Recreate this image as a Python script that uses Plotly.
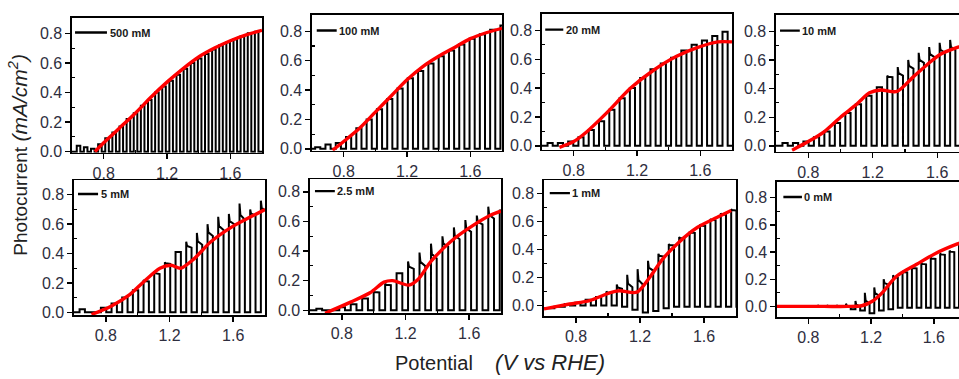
import plotly.graph_objects as go

W, H = 959, 379

# ---------------- data ----------------
labels = ["500 mM", "100 mM", "20 mM", "10 mM", "5 mM", "2.5 mM", "1 mM", "0 mM"]

# red LSV-type envelope curves (V vs RHE, mA/cm2)
red500_v = [0.745, 0.8, 0.85, 0.9, 1.0, 1.1, 1.2, 1.3, 1.4, 1.5, 1.6, 1.7, 1.8]
red500_i = [0.0, 0.06, 0.11, 0.16, 0.26, 0.37, 0.47, 0.56, 0.64, 0.70, 0.75, 0.79, 0.82]
red100_v = [0.73, 0.8, 0.9, 1.0, 1.1, 1.2, 1.3, 1.4, 1.5, 1.6, 1.7, 1.8]
red100_i = [-0.01, 0.05, 0.14, 0.25, 0.36, 0.47, 0.56, 0.63, 0.69, 0.75, 0.79, 0.82]
red20_v = [0.71, 0.8, 0.885, 1.01, 1.16, 1.30, 1.45, 1.58, 1.71, 1.8]
red20_i = [-0.01, 0.03, 0.10, 0.23, 0.40, 0.52, 0.62, 0.68, 0.72, 0.72]
red10_v = [0.70, 0.8, 0.9, 1.0, 1.1, 1.18, 1.25, 1.35, 1.45, 1.54, 1.62, 1.73, 1.8]
red10_i = [-0.03, 0.03, 0.10, 0.20, 0.29, 0.37, 0.39, 0.38, 0.48, 0.57, 0.64, 0.69, 0.72]
red5_v = [0.71, 0.83, 0.95, 1.04, 1.14, 1.21, 1.27, 1.35, 1.46, 1.59, 1.71, 1.8]
red5_i = [-0.015, 0.04, 0.12, 0.21, 0.30, 0.32, 0.30, 0.36, 0.48, 0.58, 0.65, 0.70]
red25_v = [0.695, 0.855, 0.98, 1.065, 1.12, 1.22, 1.28, 1.36, 1.49, 1.62, 1.73, 1.8]
red25_i = [-0.02, 0.055, 0.12, 0.19, 0.20, 0.17, 0.21, 0.33, 0.47, 0.57, 0.64, 0.67]
red1_v = [0.6, 0.76, 0.885, 1.01, 1.07, 1.18, 1.26, 1.34, 1.44, 1.56, 1.68, 1.77]
red1_i = [-0.025, 0.01, 0.035, 0.09, 0.105, 0.095, 0.20, 0.33, 0.45, 0.56, 0.63, 0.68]
red0_v = [0.6, 0.9, 1.05, 1.14, 1.21, 1.27, 1.36, 1.49, 1.61, 1.75, 1.8]
red0_i = [0.0, 0.0, 0.0, 0.005, 0.04, 0.10, 0.22, 0.31, 0.39, 0.46, 0.48]

# chopped-light (black) curves: first light-on potential, chop period,
# current at light-on, current at light-off, dark current after each pulse
chop500_start, chop500_period = 0.63, 0.045
chop500_on = [0.04, 0.03, 0.02, 0.05, 0.09, 0.13, 0.17, 0.22, 0.26, 0.31, 0.35, 0.40, 0.44,
              0.48, 0.52, 0.56, 0.60, 0.63, 0.66, 0.69, 0.72, 0.74, 0.76, 0.78, 0.80, 0.81]
chop500_off = chop500_on
chop500_dark = [0.0] * len(chop500_on)

chop100_start, chop100_period = 0.62, 0.065
chop100_on = [0.01, 0.03, 0.04, 0.08, 0.14, 0.20, 0.27, 0.34, 0.41, 0.48, 0.53, 0.58, 0.63,
              0.67, 0.71, 0.75, 0.78, 0.81, 0.84]
chop100_off = chop100_on
chop100_dark = [0.0] * len(chop100_on)

chop20_start, chop20_period = 0.635, 0.065
chop20_on = [0.02, 0.02, 0.03, 0.06, 0.11, 0.17, 0.25, 0.33, 0.40, 0.47, 0.53, 0.57, 0.61,
             0.66, 0.70, 0.73, 0.76, 0.79]
chop20_off = chop20_on
chop20_dark = [0.0] * len(chop20_on)

chop10_start, chop10_period = 0.64, 0.065
chop10_on = [0.02, 0.02, 0.03, 0.06, 0.10, 0.16, 0.23, 0.29, 0.35, 0.41, 0.49, 0.55, 0.60,
             0.65, 0.69, 0.72, 0.74, 0.77]
chop10_off = [0.02, 0.02, 0.03, 0.06, 0.10, 0.16, 0.23, 0.29, 0.35, 0.41, 0.48, 0.49, 0.54,
              0.58, 0.62, 0.65, 0.67, 0.70]
chop10_dark = [0.0] * len(chop10_on)

chop5_start, chop5_period = 0.635, 0.067
chop5_on = [0.02, 0.00, 0.03, 0.06, 0.10, 0.15, 0.22, 0.28, 0.34, 0.41, 0.48, 0.54, 0.60,
            0.65, 0.67, 0.74, 0.70, 0.76]
chop5_off = [0.02, 0.00, 0.03, 0.06, 0.10, 0.15, 0.21, 0.26, 0.33, 0.41, 0.44, 0.46, 0.52,
             0.56, 0.60, 0.63, 0.66, 0.69]
chop5_dark = [0.0] * len(chop5_on)

chop25_start, chop25_period = 0.64, 0.072
chop25_on = [0.01, 0.00, 0.02, 0.04, 0.08, 0.13, 0.18, 0.25, 0.33, 0.39, 0.45, 0.50, 0.56,
             0.61, 0.64, 0.70, 0.68]
chop25_off = [0.01, 0.00, 0.02, 0.04, 0.08, 0.12, 0.17, 0.25, 0.28, 0.30, 0.35, 0.43, 0.48,
              0.53, 0.58, 0.62, 0.66]
chop25_dark = [0.0] * len(chop25_on)

chop1_start, chop1_period = 0.60, 0.065
chop1_on = [-0.02, -0.01, 0.01, 0.02, 0.04, 0.06, 0.10, 0.15, 0.22, 0.26, 0.32, 0.37, 0.44,
            0.49, 0.53, 0.58, 0.62, 0.66, 0.69]
chop1_off = [-0.02, -0.01, 0.01, 0.02, 0.04, 0.06, 0.09, 0.12, 0.13, 0.15, 0.25, 0.35, 0.43,
             0.48, 0.52, 0.57, 0.61, 0.65, 0.68]
chop1_dark = [-0.02, -0.01, 0.0, 0.0, 0.0, 0.0, 0.0, -0.01, -0.03, -0.05, -0.04, -0.02, -0.01,
              -0.01, -0.01, -0.01, -0.01, -0.01, -0.01]

chop0_start, chop0_period = 0.62, 0.06
chop0_on = [0.0, 0.0, 0.0, 0.0, 0.01, 0.01, 0.01, 0.02, 0.04, 0.10, 0.14, 0.20, 0.23, 0.26,
            0.29, 0.32, 0.36, 0.39, 0.41, 0.45]
chop0_off = [0.0, 0.0, 0.0, 0.0, 0.0, 0.0, 0.0, 0.0, 0.0, 0.02, 0.08, 0.16, 0.21, 0.25,
             0.28, 0.31, 0.35, 0.38, 0.40, 0.44]
chop0_dark = [0.0, 0.0, 0.0, 0.0, 0.0, 0.0, 0.0, -0.02, -0.03, -0.05, -0.03, -0.02, -0.01,
              -0.01, -0.01, -0.01, -0.01, -0.01, -0.01, -0.01]

x_ticks = [0.8, 1.2, 1.6]
y_ticks = [0.0, 0.2, 0.4, 0.6, 0.8]

# ---------------- layout geometry (pixels) ----------------
# (left, right, top, bottom, x_max, y_min, y_max, legend line x0, x1 in domain)
panels_geo = [
    (72, 262, 18, 156, 1.80, -0.007, 0.906, 0.016, 0.184),
    (312, 502, 15, 154, 1.80, -0.013, 0.913, 0.025, 0.13),
    (542, 732, 14, 153, 1.80, -0.027, 0.915, 0.017, 0.112),
    (776, 959, 15, 155, 1.735, -0.041, 0.916, 0.022, 0.13),
    (74, 265, 184, 322, 1.80, -0.020, 0.900, 0.021, 0.126),
    (310, 501, 183, 320, 1.80, -0.020, 0.886, 0.026, 0.13),
    (544, 736, 184, 323, 1.80, -0.077, 0.898, 0.030, 0.135),
    (777, 959, 186, 324, 1.76, -0.079, 0.915, 0.035, 0.137),
]

reds = [(red500_v, red500_i), (red100_v, red100_i), (red20_v, red20_i), (red10_v, red10_i),
        (red5_v, red5_i), (red25_v, red25_i), (red1_v, red1_i), (red0_v, red0_i)]
chops = [
    (chop500_start, chop500_period, chop500_on, chop500_off, chop500_dark),
    (chop100_start, chop100_period, chop100_on, chop100_off, chop100_dark),
    (chop20_start, chop20_period, chop20_on, chop20_off, chop20_dark),
    (chop10_start, chop10_period, chop10_on, chop10_off, chop10_dark),
    (chop5_start, chop5_period, chop5_on, chop5_off, chop5_dark),
    (chop25_start, chop25_period, chop25_on, chop25_off, chop25_dark),
    (chop1_start, chop1_period, chop1_on, chop1_off, chop1_dark),
    (chop0_start, chop0_period, chop0_on, chop0_off, chop0_dark),
]


def chopped_path(start, period, on_vals, off_vals, dark_vals):
    xs = [0.55]
    ys = [dark_vals[0]]
    prev_dark = dark_vals[0]
    for k, (a, b, d) in enumerate(zip(on_vals, off_vals, dark_vals)):
        v_on = start + k * period
        v_off = v_on + period / 2
        xs += [v_on, v_on, v_on + period * 0.08, v_off, v_off]
        ys += [prev_dark, a, b + 0.3 * (a - b), b, d]
        prev_dark = d
    xs.append(1.9)
    ys.append(prev_dark)
    return xs, ys


FONT = "Arial, 'Liberation Sans', sans-serif"
TICK_COLOR = "#2e2e3e"

fig = go.Figure()
layout = dict(
    width=W, height=H,
    margin=dict(l=0, r=0, t=0, b=0),
    paper_bgcolor="white", plot_bgcolor="white",
    showlegend=False,
    shapes=[], annotations=[],
)

for idx, geo in enumerate(panels_geo):
    left, right, top, bottom, xmax, ymin, ymax, lx0, lx1 = geo
    n = idx + 1
    xa = "x" if n == 1 else f"x{n}"
    ya = "y" if n == 1 else f"y{n}"
    start, period, on_v, off_v, dark_v = chops[idx]
    bx, by = chopped_path(start, period, on_v, off_v, dark_v)
    fig.add_trace(go.Scatter(x=bx, y=by, mode="lines", xaxis=xa, yaxis=ya,
                             line=dict(color="black", width=2), hoverinfo="skip"))
    rv, ri = reds[idx]
    fig.add_trace(go.Scatter(x=rv, y=ri, mode="lines", xaxis=xa, yaxis=ya,
                             line=dict(color="#ff0000", width=3.4, shape="spline", smoothing=0.8),
                             hoverinfo="skip"))

    cut_right = right >= W
    axis_common = dict(
        showline=True, linecolor="black", linewidth=1.6,
        showgrid=False, zeroline=False,
        ticks="outside", ticklen=5, tickwidth=1.4, tickcolor="black",
        tickfont=dict(family=FONT, size=16, color=TICK_COLOR),
    )
    layout[f"xaxis{'' if n == 1 else n}"] = dict(
        axis_common,
        domain=[left / W, min(right, W) / W],
        range=[0.6, xmax], anchor=ya,
        tickvals=x_ticks, ticktext=[f"{t:.1f}" for t in x_ticks],
        mirror=True,
        minor=dict(tickvals=[1.0, 1.4], ticks="inside", ticklen=3, tickcolor="black", tickwidth=1.2),
    )
    layout[f"yaxis{'' if n == 1 else n}"] = dict(
        axis_common,
        domain=[1 - bottom / H, 1 - top / H],
        range=[ymin, ymax], anchor=xa,
        tickvals=y_ticks, ticktext=[f"{t:.1f}" for t in y_ticks],
        mirror=False if cut_right else True,
        minor=dict(tickvals=[0.1, 0.3, 0.5, 0.7], ticks="inside", ticklen=3,
                   tickcolor="black", tickwidth=1.2),
    )
    # legend sample inside each panel
    layout["shapes"].append(dict(type="line", xref=f"{xa} domain", yref=ya,
                                 x0=lx0, x1=lx1, y0=0.805, y1=0.805,
                                 line=dict(color="black", width=2.4)))
    layout["annotations"].append(dict(xref=f"{xa} domain", yref=ya, x=lx1 + 0.003, y=0.805,
                                      xanchor="left", yanchor="middle", showarrow=False,
                                      text=f"<b>{labels[idx]}</b>",
                                      font=dict(family=FONT, size=11, color="#1a1a1a")))

# axis titles
layout["annotations"].append(dict(
    xref="paper", yref="paper", x=18 / W, y=1 - 158 / H, xanchor="center", yanchor="middle",
    showarrow=False, textangle=-90,
    text="Photocurrent\u00a0<span style='font-size:21px'><i>(mA/cm<sup>2</sup>)</i></span>",
    font=dict(family=FONT, size=19, color="#222222")))
layout["annotations"].append(dict(
    xref="paper", yref="paper", x=393 / W, y=1 - 370 / H, xanchor="left", yanchor="middle",
    showarrow=False,
    text="Potential\u00a0\u00a0\u00a0\u00a0<span style='font-size:22px'><i>(V vs RHE)</i></span>",
    font=dict(family=FONT, size=20, color="#222222")))

fig.update_layout(**layout)
fig.write_html("out.html",
               config={"displayModeBar": False, "staticPlot": True},
               post_script="document.body.style.margin='0';document.body.style.overflow='hidden';")
